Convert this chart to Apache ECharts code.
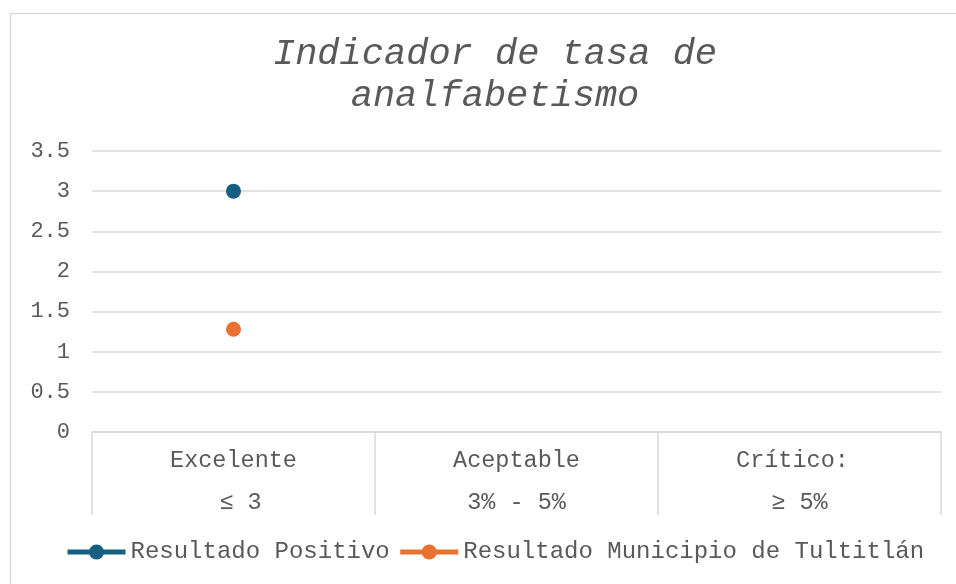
<!DOCTYPE html>
<html>
<head>
<meta charset="utf-8">
<script src="https://cdn.jsdelivr.net/npm/echarts@6/dist/echarts.min.js"></script>
<style>
  html, body { margin: 0; padding: 0; background: #fff; }
  #chart { width: 956px; height: 584px; }
</style>
</head>
<body>
<div id="chart"></div>
<script>
const categories = ['Excelente\n ≤ 3', 'Aceptable\n3% - 5%', 'Crítico: \n≥ 5%']
const positivo = [3, null, null]
const tultitlan = [1.28, null, null]
const yTicks = { min: 0, max: 3.5, interval: 0.5 }

const font = 'Liberation Mono, Courier New, monospace'
const grey = '#595959'
const lineGrey = '#d9d9d9'

const chart = echarts.init(document.getElementById('chart'))
chart.setOption({
  animation: false,
  textStyle: { fontFamily: font },
  graphic: [
    {
      type: 'rect',
      shape: { x: 10.5, y: 13.5, width: 1000, height: 620 },
      style: { fill: 'none', stroke: lineGrey, lineWidth: 1.5 },
      silent: true
    }
  ],
  title: {
    text: 'Indicador de tasa de\nanalfabetismo',
    left: 490,
    textAlign: 'center',
    top: 28,
    textStyle: {
      fontFamily: font,
      fontStyle: 'italic',
      fontWeight: 'normal',
      fontSize: 37,
      lineHeight: 42,
      color: grey
    }
  },
  legend: {
    left: 65,
    top: 540,
    padding: 0,
    itemWidth: 58,
    itemHeight: 19,
    itemGap: 8,
    lineStyle: { width: 5 },
    textStyle: { fontFamily: font, fontSize: 24, color: grey },
    data: ['Resultado Positivo', 'Resultado Municipio de Tultitlán']
  },
  grid: { left: 92, right: 15, top: 151, bottom: 152 },
  xAxis: {
    type: 'category',
    data: categories,
    boundaryGap: true,
    axisLine: { lineStyle: { color: lineGrey, width: 1.5 } },
    axisTick: { show: true, interval: 0, length: 83, lineStyle: { color: lineGrey, width: 1.5 } },
    axisLabel: {
      interval: 0,
      margin: 8,
      fontFamily: font,
      fontSize: 23.5,
      lineHeight: 42,
      color: grey
    }
  },
  yAxis: {
    type: 'value',
    min: yTicks.min,
    max: yTicks.max,
    interval: yTicks.interval,
    axisLine: { show: false },
    axisTick: { show: false },
    splitLine: { lineStyle: { color: lineGrey, width: 1.5 } },
    axisLabel: { margin: 22, fontFamily: font, fontSize: 22, color: grey }
  },
  series: [
    {
      name: 'Resultado Positivo',
      type: 'line',
      data: positivo,
      symbol: 'circle',
      symbolSize: 15,
      itemStyle: { color: '#156082' },
      lineStyle: { color: '#156082', width: 5 }
    },
    {
      name: 'Resultado Municipio de Tultitlán',
      type: 'line',
      data: tultitlan,
      symbol: 'circle',
      symbolSize: 15,
      itemStyle: { color: '#e97132' },
      lineStyle: { color: '#e97132', width: 5 }
    }
  ]
})
window.addEventListener('resize', function () {
  chart.resize()
})
</script>
</body>
</html>
